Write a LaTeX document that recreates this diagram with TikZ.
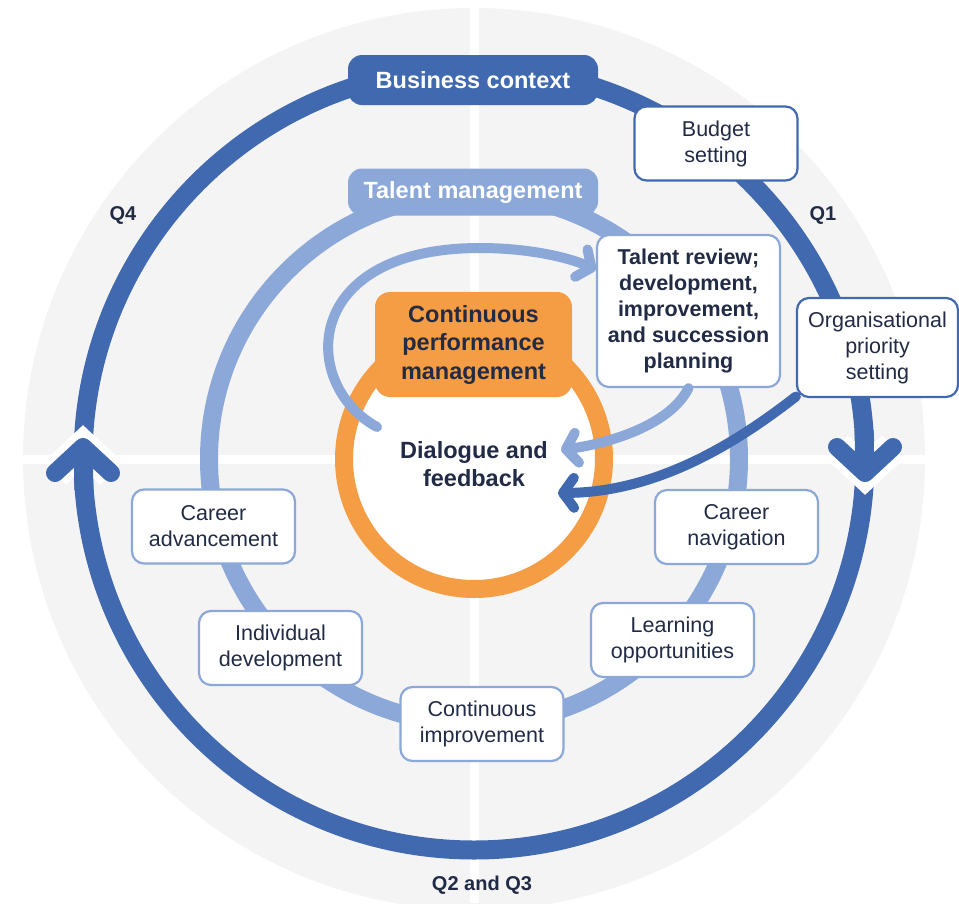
\documentclass[tikz,border=0pt]{standalone}
\usepackage{fontspec}
\setmainfont{Liberation Sans}
\usetikzlibrary{arrows.meta}

\definecolor{bizblue}{HTML}{4169B0}
\definecolor{talblue}{HTML}{8BA8D8}
\definecolor{cpmorange}{HTML}{F49D45}
\definecolor{inktext}{HTML}{222B45}
\definecolor{diskgray}{HTML}{F4F4F4}

\tikzset{
  stagebox/.style={draw=talblue, line width=2.2pt, fill=white, rounded corners=12pt,
    minimum width=163pt, minimum height=74pt, inner sep=0pt, align=center,
    text=inktext, font=\fontsize{21.5}{26}\selectfont},
  bizbox/.style={stagebox, draw=bizblue},
  titlebox/.style={rounded corners=14pt, minimum width=250pt, inner sep=0pt,
    align=center, text=white, font=\fontsize{23.5}{28}\selectfont\bfseries},
  boldtext/.style={align=center, inner sep=0pt, text=inktext,
    font=\fontsize{23.5}{28.5}\selectfont\bfseries},
  qlabel/.style={inner sep=0pt, text=inktext, font=\fontsize{20}{24}\selectfont\bfseries},
  talarrow/.style={draw=talblue, line width=10pt, line cap=round,
    -{Straight Barb[round, length=11pt, width=30pt]}},
  bizarrow/.style={talarrow, draw=bizblue},
  ringhead/.style={draw=bizblue, line width=18pt, line cap=round, line join=round,
    preaction={draw=white, line width=32pt}}
}

\begin{document}
\begin{tikzpicture}[x=1pt, y=-1pt]
\clip (0,0) rectangle (959,903);
% background disk and quarter lines
\fill[diskgray] (474,459) circle[radius=451pt];
\draw[white, line width=9pt] (474,0) -- (474,903);
\draw[white, line width=9pt] (0,459) -- (959,459);
% the three rings
\draw[bizblue, line width=19pt] (474,459) circle[radius=391pt];
\draw[talblue, line width=18pt] (474,459) circle[radius=265pt];
\draw[cpmorange, line width=18pt, fill=white] (474,459) circle[radius=130pt];

% quarter labels
\node[qlabel] (q4) at (123,215) {Q4};
\node[qlabel] (q1) at (823,215) {Q1};
\node[qlabel] (q23) at (482,885) {Q2 and Q3};

% titles
\node[titlebox, fill=bizblue, minimum height=50pt] (bizctx) at (473,80) {Business context};
\node[titlebox, fill=talblue, minimum height=47pt] (talmgmt) at (473,192) {Talent management};
\node[boldtext, fill=cpmorange, rounded corners=15pt, minimum width=197pt,
  minimum height=105pt] (cpm) at (473.5,344.5) {Continuous\\performance\\management};
\node[boldtext] (dialogue) at (474,464) {Dialogue and\\feedback};

% boxes on the rings
\node[bizbox] (budget) at (716,143.5) {Budget\\setting};
\node[bizbox, minimum width=161pt, minimum height=99pt] (orgprio) at (877.5,347.5)
  {Organisational\\priority\\setting};
\node[stagebox, font=\fontsize{21.5}{26}\selectfont\bfseries, minimum width=183pt,
  minimum height=152pt] (review) at (688.5,311)
  {Talent review;\\development,\\improvement,\\and succession\\planning};
\node[stagebox] (careeradv) at (213.5,526.5) {Career\\advancement};
\node[stagebox] (indiv) at (280.5,648) {Individual\\development};
\node[stagebox] (contimp) at (482,724) {Continuous\\improvement};
\node[stagebox] (learning) at (672.5,640) {Learning\\opportunities};
\node[stagebox] (careernav) at (736.5,527) {Career\\navigation};

% arrows into and out of the centre
\coordinate (loopstart) at (377,427);
\coordinate (fbtip) at (561,450);
\coordinate (orgtip) at (558,493);
\draw[talarrow] (loopstart) .. controls (300,385) and (300,248) .. (480,248)
  .. controls (530,248) and (570,258) .. (review.156);
\draw[talarrow] (review.south) .. controls (670,425) and (610,443) .. (fbtip);
\draw[bizarrow] (orgprio.211) .. controls (740,440) and (660,492) .. (orgtip);

% heads on the outer ring
\draw[ringhead] (55,473) -- (83,447) -- (111,473);
\draw[bizblue, line width=19pt] (83,447) -- (84,490);
\draw[ringhead] (837,447) -- (865,473) -- (893,447);
\draw[bizblue, line width=19pt] (864,430) -- (865,473);
\end{tikzpicture}
\end{document}
